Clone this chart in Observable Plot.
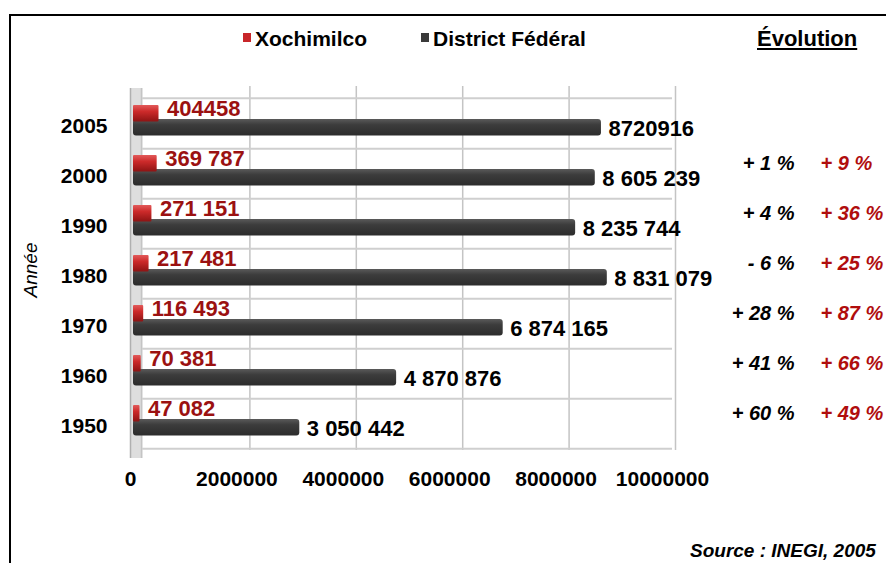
<!DOCTYPE html>
<html>
<head>
<meta charset="utf-8">
<script src="https://cdn.jsdelivr.net/npm/d3@7"></script>
<script src="https://cdn.jsdelivr.net/npm/@observablehq/plot@0.6"></script>
<style>
  html, body { margin: 0; padding: 0; background: #fff; }
  #page { position: relative; width: 886px; height: 563px; overflow: hidden; background: #fff;
          font-family: "Liberation Sans", Arial, sans-serif; color: #000; }
  #frame { position: absolute; left: 9px; top: 14px; width: 1000px; height: 700px;
           border-top: 2px solid #000; border-left: 2px solid #000; }
  .leg { position: absolute; top: 27px; font-size: 21px; font-weight: bold; white-space: nowrap; }
  .sw { position: absolute; width: 8px; height: 9px; top: 33px; }
  #evo { position: absolute; left: 757px; top: 26px; font-size: 22px; font-weight: bold; text-decoration: underline; }
  #chart { position: absolute; left: 0; top: 60px; }
  #annee { position: absolute; left: 31px; top: 270px; font-size: 19px; font-style: italic;
           transform: translate(-50%, -50%) rotate(-90deg); white-space: nowrap; }
  #source { position: absolute; left: 690px; top: 540px; font-size: 19px; font-weight: bold; font-style: italic; white-space: nowrap; }
</style>
</head>
<body>
<div id="page">
  <div id="frame"></div>
  <div class="sw" style="left:243px;background:#c8262a"></div>
  <div class="leg" style="left:255px">Xochimilco</div>
  <div class="sw" style="left:421px;background:#3a3a3a"></div>
  <div class="leg" style="left:433px">District Fédéral</div>
  <div id="evo">Évolution</div>
  <div id="annee">Année</div>
  <div id="chart"></div>
  <div id="source">Source : INEGI, 2005</div>
</div>
<script>
// ---- data ----
const years = ["2005", "2000", "1990", "1980", "1970", "1960", "1950"];
const xochimilco = [404458, 369787, 271151, 217481, 116493, 70381, 47082];
const districtFederal = [8720916, 8605239, 8235744, 8831079, 6874165, 4870876, 3050442];
const xochimilcoLabels = ["404458", "369 787", "271 151", "217 481", "116 493", "70 381", "47 082"];
const dfLabels = ["8720916", "8 605 239", "8 235 744", "8 831 079", "6 874 165", "4 870 876", "3 050 442"];
const evolutionFrom = ["2000", "1990", "1980", "1970", "1960", "1950"];
const dfEvolution = ["+ 1 %", "+ 4 %", "- 6 %", "+ 28 %", "+ 41 %", "+ 60 %"];
const xochEvolution = ["+ 9 %", "+ 36 %", "+ 25 %", "+ 87 %", "+ 66 %", "+ 49 %"];
const xTicks = [0, 2000000, 4000000, 6000000, 8000000, 10000000];

// tables built from the arrays
const rows = years.map((y, i) => ({
  year: y, xoch: xochimilco[i], df: districtFederal[i],
  xochLabel: xochimilcoLabels[i], dfLabel: dfLabels[i]
}));
const evo = evolutionFrom.map((y, i) => ({year: y, df: dfEvolution[i], xoch: xochEvolution[i]}));

const red = "#9b1111";

const chart = Plot.plot({
  width: 886,
  height: 503,
  marginTop: 36,
  marginBottom: 113,
  marginLeft: 137,
  marginRight: 217,
  style: {fontFamily: "'Liberation Sans', Arial, sans-serif", fontSize: "21px", fontWeight: "bold", background: "transparent", color: "#000", overflow: "visible"},
  x: {domain: [0, 10000000], axis: null},
  y: {domain: years, padding: 0, axis: null},
  marks: [
    // back wall vertical gridlines
    Plot.ruleX(xTicks.slice(1), {x: d => d, dx: 6, stroke: "#c4c4c4", strokeWidth: 1.5, insetTop: -10}),
    // horizontal gridlines (row separators)
    Plot.ruleY(years, {y: d => d, dy: 25.3, stroke: "#cfcfcf", strokeWidth: 2, dx: 3}),
    Plot.ruleY(years.slice(0, 1), {y: d => d, dy: -25.3, stroke: "#cfcfcf", strokeWidth: 2, dx: 3}),
    // left 3D wall
    Plot.ruleX([0], {x: d => d, dx: -1, stroke: "#dedede", strokeWidth: 12, insetTop: -8, insetBottom: -8}),
    Plot.ruleX([0], {x: d => d, dx: -7, stroke: "#b0b0b0", strokeWidth: 1.5, insetTop: -8, insetBottom: -8}),
    Plot.ruleX([0], {x: d => d, dx: 4, stroke: "#c4c4c4", strokeWidth: 1.5, insetTop: -8, insetBottom: -8}),
    // District Fédéral bars
    Plot.barX(rows, {y: "year", x: "df", fill: "url(#gDark)", insetTop: 21, insetBottom: 12.6, insetLeft: -4, rx: 3}),
    // Xochimilco bars
    Plot.barX(rows, {y: "year", x: "xoch", fill: "url(#gRed)", insetTop: 7, insetBottom: 26.6, insetLeft: -4, rx: 1}),
    // value labels
    Plot.text(rows, {y: "year", x: "xoch", text: "xochLabel", textAnchor: "start", dx: 8, dy: -15, fill: red, fontSize: 22}),
    Plot.text(rows, {y: "year", x: "df", text: "dfLabel", textAnchor: "start", dx: 7, dy: 5, fill: "#000", fontSize: 22}),
    // y tick labels (years)
    Plot.text(years, {y: d => d, frameAnchor: "left", textAnchor: "end", dx: -30, dy: 3, text: d => d, fontSize: 21}),
    // x tick labels
    Plot.text(xTicks, {x: d => d, frameAnchor: "bottom", dy: 35, dx: -7, text: d => d3.format("d")(d), fontSize: 21}),
    // evolution columns
    Plot.text(evo, {y: "year", frameAnchor: "right", text: "df", textAnchor: "end", dx: 125, dy: -10, fontStyle: "italic", fontSize: 20, fill: "#000"}),
    Plot.text(evo, {y: "year", frameAnchor: "right", text: "xoch", textAnchor: "start", dx: 151, dy: -10, fontStyle: "italic", fontSize: 20, fill: "#b00d0d"})
  ]
});

// gradients for the 3D look
const defs = d3.select(chart).insert("defs", ":first-child");
const grad = (id, stops) => {
  const g = defs.append("linearGradient").attr("id", id)
    .attr("x1", 0).attr("y1", 0).attr("x2", 0).attr("y2", 1);
  stops.forEach(([o, c]) => g.append("stop").attr("offset", o).attr("stop-color", c));
};
grad("gDark", [["0%", "#5a5a5a"], ["35%", "#3c3c3c"], ["100%", "#2c2c2c"]]);
grad("gRed", [["0%", "#e25a5a"], ["40%", "#cc2a2a"], ["100%", "#8e1414"]]);

document.getElementById("chart").appendChild(chart);
</script>
</body>
</html>
